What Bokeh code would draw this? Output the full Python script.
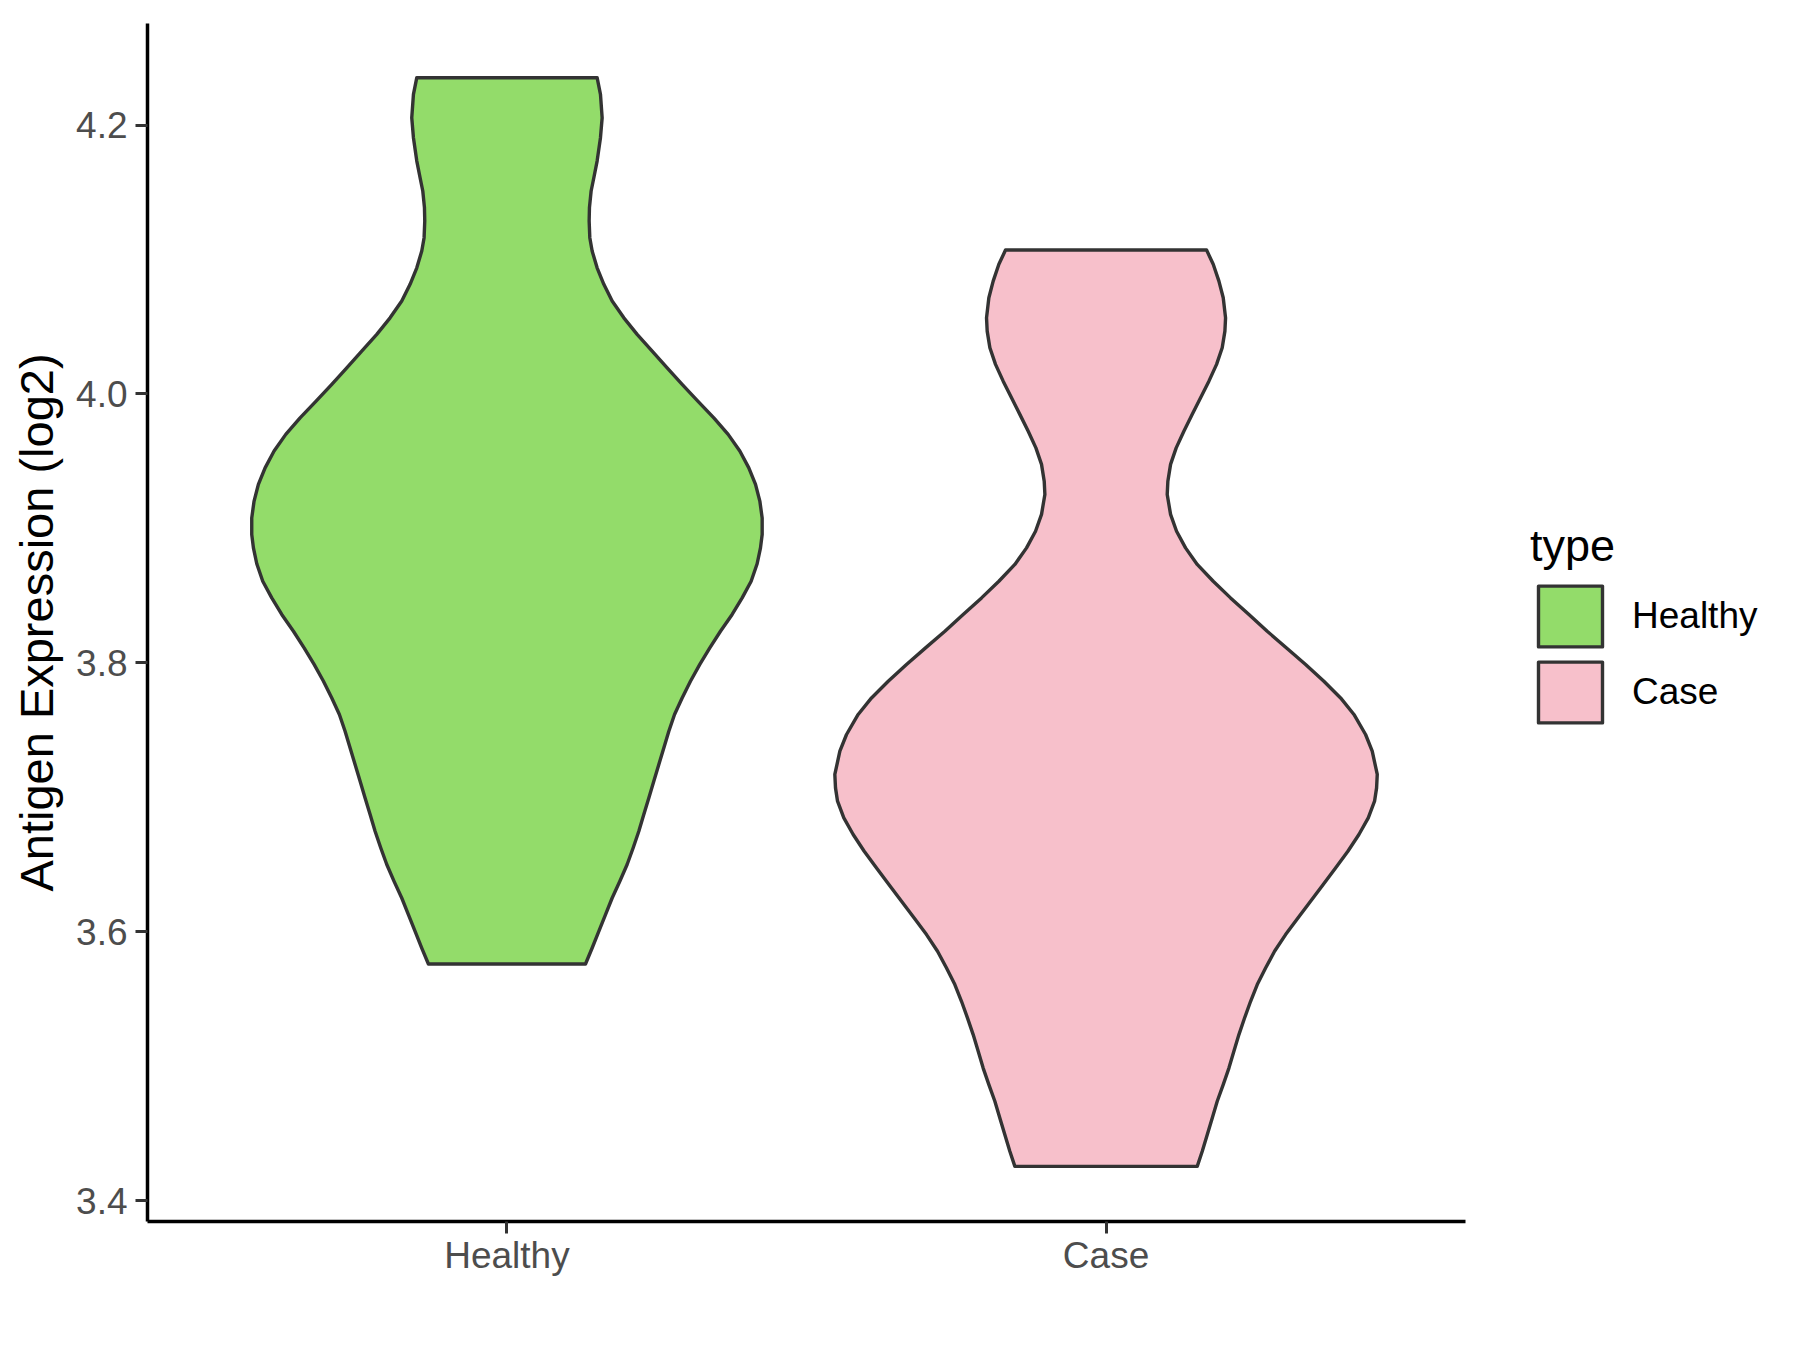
from bokeh.plotting import figure
from bokeh.models import Range1d, FixedTicker, PrintfTickFormatter, Legend, LegendItem
from bokeh.embed import file_html
from bokeh.resources import INLINE

# ---- data ----
categories = ["Healthy", "Case"]
fill_colors = ["#93DC6A", "#F7C0CB"]
y_ticks = [3.4, 3.6, 3.8, 4.0, 4.2]
y_label = "Antigen Expression (log2)"
legend_title = "type"

# violin outlines: y value and half-width (in category units), bottom to top
healthy_y = [3.5760, 3.5879, 3.6003, 3.6128, 3.6251, 3.6375, 3.6500, 3.6623, 3.6747, 3.6872,
             3.6995, 3.7119, 3.7244, 3.7367, 3.7491, 3.7616, 3.7739, 3.7863, 3.7988, 3.8111,
             3.8235, 3.8360, 3.8483, 3.8607, 3.8737, 3.8855, 3.8955, 3.9078, 3.9203, 3.9327,
             3.9450, 3.9575, 3.9699, 3.9822, 3.9947, 4.0071, 4.0194, 4.0319, 4.0443, 4.0566,
             4.0691, 4.0815, 4.0938, 4.1063, 4.1162, 4.1286, 4.1385, 4.1509, 4.1608, 4.1732,
             4.1906, 4.2054, 4.2228, 4.2352]
healthy_w = [0.1311, 0.1422, 0.1533, 0.1645, 0.1756, 0.1884, 0.2006, 0.2106, 0.2201, 0.2284,
             0.2368, 0.2451, 0.2535, 0.2618, 0.2702, 0.2797, 0.2924, 0.3063, 0.3219, 0.3386,
             0.3564, 0.3759, 0.3926, 0.4076, 0.4176, 0.4232, 0.4260, 0.4260, 0.4221, 0.4149,
             0.4037, 0.3887, 0.3692, 0.3453, 0.3186, 0.2924, 0.2674, 0.2424, 0.2173, 0.1951,
             0.1756, 0.1617, 0.1505, 0.1422, 0.1383, 0.1372, 0.1377, 0.1405, 0.1450, 0.1505,
             0.1561, 0.1589, 0.1561, 0.1505]

case_y = [3.4255, 3.4367, 3.4491, 3.4614, 3.4739, 3.4863, 3.4986, 3.5111, 3.5235, 3.5358,
          3.5483, 3.5607, 3.5730, 3.5855, 3.5979, 3.6102, 3.6227, 3.6351, 3.6474, 3.6599,
          3.6723, 3.6847, 3.6971, 3.7070, 3.7170, 3.7343, 3.7467, 3.7616, 3.7739, 3.7863,
          3.7988, 3.8111, 3.8235, 3.8360, 3.8483, 3.8607, 3.8732, 3.8855, 3.8979, 3.9104,
          3.9252, 3.9351, 3.9476, 3.9599, 3.9723, 3.9848, 3.9971, 4.0095, 4.0220, 4.0343,
          4.0467, 4.0566, 4.0715, 4.0839, 4.0964, 4.1070]
case_w = [0.1522, 0.1606, 0.1689, 0.1773, 0.1856, 0.1956, 0.2051, 0.2134, 0.2218, 0.2312,
          0.2413, 0.2524, 0.2663, 0.2813, 0.2997, 0.3203, 0.3414, 0.3625, 0.3831, 0.4037,
          0.4221, 0.4377, 0.4482, 0.4516, 0.4527, 0.4443, 0.4332, 0.4138, 0.3915, 0.3636,
          0.3331, 0.3013, 0.2690, 0.2385, 0.2078, 0.1789, 0.1522, 0.1327, 0.1177, 0.1077,
          0.1021, 0.1032, 0.1077, 0.1171, 0.1299, 0.1439, 0.1578, 0.1717, 0.1845, 0.1939,
          0.1984, 0.1995, 0.1956, 0.1884, 0.1789, 0.1678]

profiles_y = [healthy_y, case_y]
profiles_w = [healthy_w, case_w]

FONT = "Liberation Sans"

# layout: plot area 1318 px wide for the category axis (0.4 .. 2.6); the frame is
# extended to the right so the legend can sit inside it, the x axis is bounded.
X_LO, X_HI = 0.4, 2.6
AXIS_PX = 1318
FRAME_PX = 1784 - 147 - 8
x_end = X_LO + (X_HI - X_LO) * FRAME_PX / AXIS_PX

p = figure(width=1784, height=1334, output_backend="svg", toolbar_location=None,
           x_range=Range1d(X_LO, x_end), y_range=Range1d(3.3845, 4.2755),
           min_border_left=147, min_border_right=8, min_border_top=23,
           min_border_bottom=113)
p.outline_line_color = None
p.xgrid.visible = False
p.ygrid.visible = False
p.background_fill_color = "white"
p.border_fill_color = "white"

items = []
for i, cat in enumerate(categories):
    c = i + 1
    ys = profiles_y[i]
    ws = profiles_w[i]
    px = [c + w for w in ws] + [c - w for w in reversed(ws)]
    py = list(ys) + list(reversed(ys))
    r = p.patch(px, py, fill_color=fill_colors[i], line_color="#333333",
                line_width=3.4, line_join="round")
    items.append(LegendItem(label=cat, renderers=[r]))

# axes
for ax in (p.xaxis[0], p.yaxis[0]):
    ax.axis_line_color = "black"
    ax.axis_line_width = 3.5
    ax.major_tick_line_color = "#333333"
    ax.major_tick_line_width = 3
    ax.major_tick_in = 0
    ax.major_tick_out = 12
    ax.minor_tick_line_color = None
    ax.major_label_text_font = FONT
    ax.major_label_text_font_size = "37px"
    ax.major_label_text_color = "#4D4D4D"

p.xaxis.bounds = (X_LO, X_HI)
p.xaxis.ticker = FixedTicker(ticks=[1, 2])
p.xaxis.major_label_overrides = {1: categories[0], 2: categories[1]}
p.xaxis.major_label_standoff = 1

p.yaxis.ticker = FixedTicker(ticks=y_ticks)
p.yaxis.formatter = PrintfTickFormatter(format="%.1f")
p.yaxis.major_label_standoff = 8
p.yaxis.axis_label = y_label
p.yaxis.axis_label_text_font = FONT
p.yaxis.axis_label_text_font_size = "47px"
p.yaxis.axis_label_text_font_style = "normal"
p.yaxis.axis_label_text_color = "black"
p.yaxis.axis_label_standoff = 10

legend = Legend(items=items, title=legend_title, location=(AXIS_PX + 65, 491),
                glyph_width=80, glyph_height=76, label_standoff=22, spacing=0,
                padding=0, margin=0, border_line_color=None,
                background_fill_alpha=0,
                title_text_font=FONT, title_text_font_size="45px",
                title_text_font_style="normal", title_text_color="black",
                title_standoff=6,
                label_text_font=FONT, label_text_font_size="37px",
                label_text_color="black")
p.add_layout(legend, "center")

open("out.html", "w").write(file_html(p, INLINE))
